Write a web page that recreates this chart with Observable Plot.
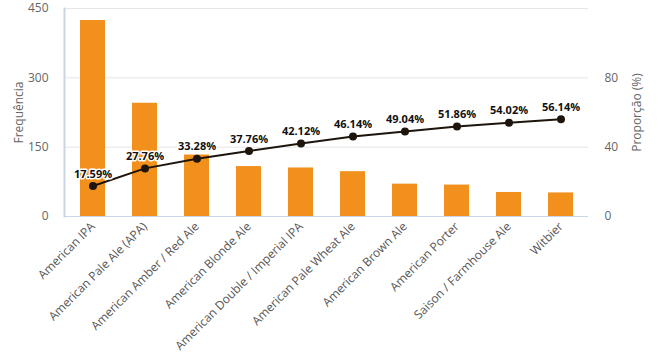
<!DOCTYPE html>
<html><head><meta charset="utf-8">
<script src="https://cdn.jsdelivr.net/npm/d3@7"></script>
<script src="https://cdn.jsdelivr.net/npm/@observablehq/plot@0.6"></script>
<style>body{margin:0;background:#fff;font-family:"Open Sans",sans-serif}</style>
</head><body><div id="chart"></div>
<script>
const categories = ["American IPA","American Pale Ale (APA)","American Amber / Red Ale","American Blonde Ale","American Double / Imperial IPA","American Pale Wheat Ale","American Brown Ale","American Porter","Saison / Farmhouse Ale","Witbier"];
const frequencies = [424,245,133,108,105,97,70,68,52,51];
const cumulativePct = [17.59,27.76,33.28,37.76,42.12,46.14,49.04,51.86,54.02,56.14];
const leftTicks = [0,150,300,450];
const rightTicks = [0,40,80];
const rightMax = 120, leftMax = 450;
const k = leftMax / rightMax;

const data = categories.map((c,i)=>({cat:c, freq:frequencies[i], pct:cumulativePct[i], py:cumulativePct[i]*k, label:cumulativePct[i].toFixed(2)+"%"}));

const chart = Plot.plot({
  width:661, height:356,
  marginLeft:64, marginRight:73, marginTop:8, marginBottom:140,
  style:{fontFamily:"Open Sans, sans-serif", fontSize:"11px", color:"#666"},
  x:{domain:categories, paddingInner:0.52, paddingOuter:0.26, axis:null},
  y:{domain:[0,leftMax], axis:null},
  marks:[
    Plot.gridY(leftTicks,{stroke:"#e6e6e6", strokeOpacity:1}),
    Plot.axisY({ticks:leftTicks, tickSize:0, tickPadding:16, fill:"#666", fontSize:12, label:"Frequência", labelAnchor:"center", labelArrow:"none", labelOffset:50}),
    Plot.axisY({anchor:"right", ticks:rightTicks.map(d=>d*k), tickFormat:d=>d/k, tickSize:0, tickPadding:16, fill:"#666", fontSize:12, label:"Proporção (%)", labelAnchor:"center", labelArrow:"none", labelOffset:52}),
    Plot.axisX({tickRotate:-45, tickSize:0, tickPadding:8, fill:"#555", fontSize:12, label:null}),
    Plot.barY(data,{x:"cat", y:"freq", fill:"#f1901d"}),
    Plot.ruleY([0],{stroke:"#ccd6eb"}),
    Plot.frame({anchor:"left", stroke:"#c8d6e2", strokeWidth:2}),
    Plot.line(data,{x:"cat", y:"py", stroke:"#1e150c", strokeWidth:2}),
    Plot.dot(data,{x:"cat", y:"py", r:4, fill:"#1e150c"}),
    Plot.text(data,{x:"cat", y:"py", text:"label", dy:-12, fontSize:11, fontWeight:"bold", fill:"#111", stroke:"white", strokeWidth:3})
  ]
});
document.getElementById("chart").appendChild(chart);
</script></body></html>
